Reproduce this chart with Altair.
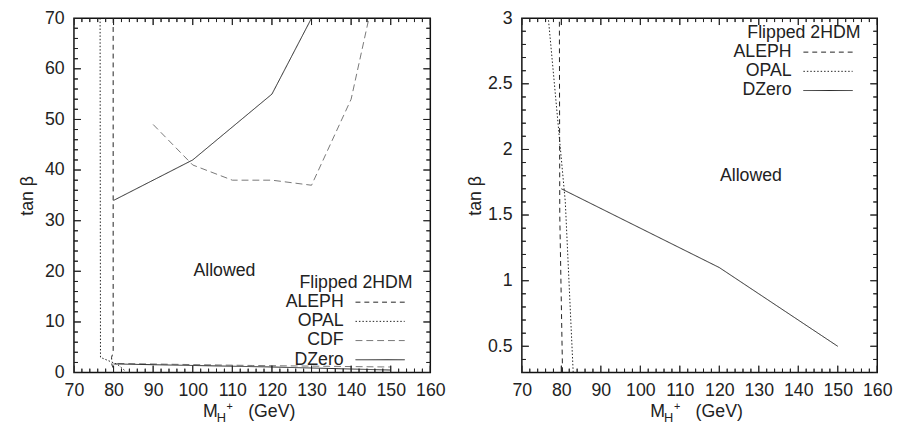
import altair as alt
import pandas as pd

# ---------------- data ----------------
X_DOMAIN = [70, 160]
X_MAJOR = list(range(70, 161, 10))
X_MINOR = [v for v in range(70, 161, 2) if v % 10 != 0]

L_Y_DOMAIN = [0, 70]
L_Y_MAJOR = list(range(0, 71, 10))
L_Y_MINOR = [v for v in range(0, 71, 2) if v % 10 != 0]

R_Y_DOMAIN = [0.3, 3]
R_Y_MAJOR = [0.5, 1, 1.5, 2, 2.5, 3]
R_Y_MINOR = [0.3, 0.4, 0.6, 0.7, 0.8, 0.9, 1.1, 1.2, 1.3, 1.4, 1.6, 1.7, 1.8, 1.9,
             2.1, 2.2, 2.3, 2.4, 2.6, 2.7, 2.8, 2.9]

aleph_x = [79.9, 79.9, 79.5, 79.6, 80.3]
aleph_y = [70, 4.0, 3.0, 1.5, 0.3]

opal_x = [76.6, 76.7, 81.0, 83.0]
opal_y = [70, 3.0, 1.6, 0.3]

cdf_hi_x = [90, 100, 110, 120, 130, 140, 144.5]
cdf_hi_y = [49, 41, 38, 38, 37, 54, 70]
cdf_lo_x = [81, 115, 150]
cdf_lo_y = [1.8, 1.4, 1.1]

dzero_hi_x = [80, 100, 120, 130]
dzero_hi_y = [34, 42, 55, 70]
dzero_lo_x = [80, 120, 150]
dzero_lo_y = [1.7, 1.1, 0.5]

SERIES = ["ALEPH", "OPAL", "CDF", "DZero", "tick"]
DASHES = [[5, 4], [1.5, 2], [7, 4], [1, 0], [1, 0]]
COLORS = ["#222222", "#222222", "#777777", "#222222", "#222222"]

allowed_left = {"x": [108], "y": [20], "t": ["Allowed"]}
allowed_right = {"x": [128], "y": [1.8], "t": ["Allowed"]}

FONT = "Liberation Sans"
FS = 18
INK = "#222222"
MAJOR_LEN = 7
MINOR_LEN = 4


def make_df(names, y_domain, y_major, y_minor, W, H):
    rows = []
    segs = {
        "ALEPH": [(aleph_x, aleph_y)],
        "OPAL": [(opal_x, opal_y)],
        "CDF": [(cdf_hi_x, cdf_hi_y), (cdf_lo_x, cdf_lo_y)],
        "DZero": [(dzero_hi_x, dzero_hi_y), (dzero_lo_x, dzero_lo_y)],
    }
    for n in names:
        for k, (xs, ys) in enumerate(segs[n]):
            for i, (a, b) in enumerate(zip(xs, ys)):
                rows.append({"series": n, "seg": f"{n}{k}", "i": i, "x": a, "y": b})
    # inward gnuplot-style ticks on all four sides, as short 2-point segments
    y0, y1 = y_domain
    x0, x1 = X_DOMAIN
    c = 0
    for vals, size in [(X_MAJOR, MAJOR_LEN), (X_MINOR, MINOR_LEN)]:
        dy = size / H * (y1 - y0)
        for v in vals:
            for a, b in [(y0, y0 + dy), (y1, y1 - dy)]:
                rows.append({"series": "tick", "seg": f"t{c}", "i": 0, "x": v, "y": a})
                rows.append({"series": "tick", "seg": f"t{c}", "i": 1, "x": v, "y": b})
                c += 1
    for vals, size in [(y_major, MAJOR_LEN), (y_minor, MINOR_LEN)]:
        dx = size / W * (x1 - x0)
        for v in vals:
            for a, b in [(x0, x0 + dx), (x1, x1 - dx)]:
                rows.append({"series": "tick", "seg": f"t{c}", "i": 0, "x": a, "y": v})
                rows.append({"series": "tick", "seg": f"t{c}", "i": 1, "x": b, "y": v})
                c += 1
    return pd.DataFrame(rows)


def panel(names, y_domain, y_major, y_minor, legend_title_y, allowed, W, H, title_pad):
    df = make_df(names, y_domain, y_major, y_minor, W, H)
    xs = alt.Scale(domain=X_DOMAIN, nice=False, zero=False)
    ys = alt.Scale(domain=y_domain, nice=False, zero=False)
    xax = alt.Axis(values=X_MAJOR, ticks=False, domain=False, grid=False,
                   title=None, labelPadding=9, labelOverlap=False, labelFlush=False,
                   format=".1~f")
    yax = alt.Axis(values=y_major, ticks=False, domain=False, grid=False,
                   title="tan β", titlePadding=title_pad, labelPadding=10,
                   labelOverlap=False, labelFlush=False, format=".1~f")

    def X(f):
        return alt.X(f, scale=xs, axis=xax, title=None)

    def Y(f):
        return alt.Y(f, scale=ys, axis=yax, title="tan β")

    lines = alt.Chart(df).mark_line(clip=True, strokeWidth=1).encode(
        x=X("x:Q"),
        y=Y("y:Q"),
        detail="seg:N",
        order="i:Q",
        strokeDash=alt.StrokeDash("series:N", scale=alt.Scale(domain=SERIES, range=DASHES), legend=None),
        color=alt.Color("series:N", scale=alt.Scale(domain=SERIES, range=COLORS), legend=None),
    )

    layers = [lines]

    # tick marks centred on the frame, outer half clipped away
    y0, y1 = y_domain
    x0, x1 = X_DOMAIN
    for vals, size in [(X_MAJOR, MAJOR_LEN), (X_MINOR, MINOR_LEN)]:
        tdf = pd.DataFrame({"x": vals * 2, "y": [y0] * len(vals) + [y1] * len(vals)})
        layers.append(alt.Chart(tdf).mark_tick(
            orient="vertical", size=2 * size, thickness=1, color=INK, clip=True, opacity=1).encode(
            x=X("x:Q"), y=Y("y:Q")))
    for vals, size in [(y_major, MAJOR_LEN), (y_minor, MINOR_LEN)]:
        tdf = pd.DataFrame({"y": vals * 2, "x": [x0] * len(vals) + [x1] * len(vals)})
        layers.append(alt.Chart(tdf).mark_tick(
            orient="horizontal", size=2 * size, thickness=1, color=INK, clip=True, opacity=1).encode(
            x=X("x:Q"), y=Y("y:Q")))

    # "Allowed" annotation
    layers.append(alt.Chart(pd.DataFrame(allowed)).mark_text(
        font=FONT, fontSize=FS, color=INK).encode(
        x=X("x:Q"), y=Y("y:Q"), text="t:N"))

    # legend (gnuplot style)
    layers.append(alt.Chart(pd.DataFrame({"t": ["Flipped 2HDM"]})).mark_text(
        font=FONT, fontSize=FS, color=INK, align="right", baseline="middle").encode(
        x=alt.value(344), y=alt.value(legend_title_y), text="t:N"))
    for k, n in enumerate(names):
        idx = SERIES.index(n)
        yy = legend_title_y + 19.5 * (k + 1)
        layers.append(alt.Chart(pd.DataFrame({"t": [n]})).mark_text(
            font=FONT, fontSize=FS, color=INK, align="right", baseline="middle").encode(
            x=alt.value(274), y=alt.value(yy), text="t:N"))
        layers.append(alt.Chart(pd.DataFrame({"t": [n]})).mark_rule(
            strokeDash=DASHES[idx], color=COLORS[idx], strokeWidth=1).encode(
            x=alt.value(286), x2=alt.value(336), y=alt.value(yy)))

    # x axis title: M_{H+} (GeV)
    cx = W / 2
    for txt, dx, dy, fs in [("M", -50, 45, FS), ("H", -36, 50, 13), ("+", -26, 38, 11),
                            ("(GeV)", -4, 45, FS)]:
        layers.append(alt.Chart(pd.DataFrame({"t": [txt]})).mark_text(
            font=FONT, fontSize=fs, color=INK, align="left", baseline="alphabetic").encode(
            x=alt.value(cx + dx), y=alt.value(H + dy), text="t:N"))

    return alt.layer(*layers).properties(width=W, height=H)


left = panel(["ALEPH", "OPAL", "CDF", "DZero"], L_Y_DOMAIN, L_Y_MAJOR, L_Y_MINOR, 269,
             allowed_left, 362, 360, 8)
right = panel(["ALEPH", "OPAL", "DZero"], R_Y_DOMAIN, R_Y_MAJOR, R_Y_MINOR, 15,
              allowed_right, 361, 360, 3)

chart = alt.hconcat(left, right, spacing=20).properties(
    padding={"left": 10, "top": -3, "right": 0, "bottom": 0}
).configure_view(stroke="#111", strokeWidth=1.5).configure_axis(
    labelFont=FONT, labelFontSize=FS, labelColor=INK,
    titleFont=FONT, titleFontSize=FS, titleColor=INK, titleFontWeight="normal")

chart.save("out.html", embed_options={"renderer": "svg", "actions": False})
